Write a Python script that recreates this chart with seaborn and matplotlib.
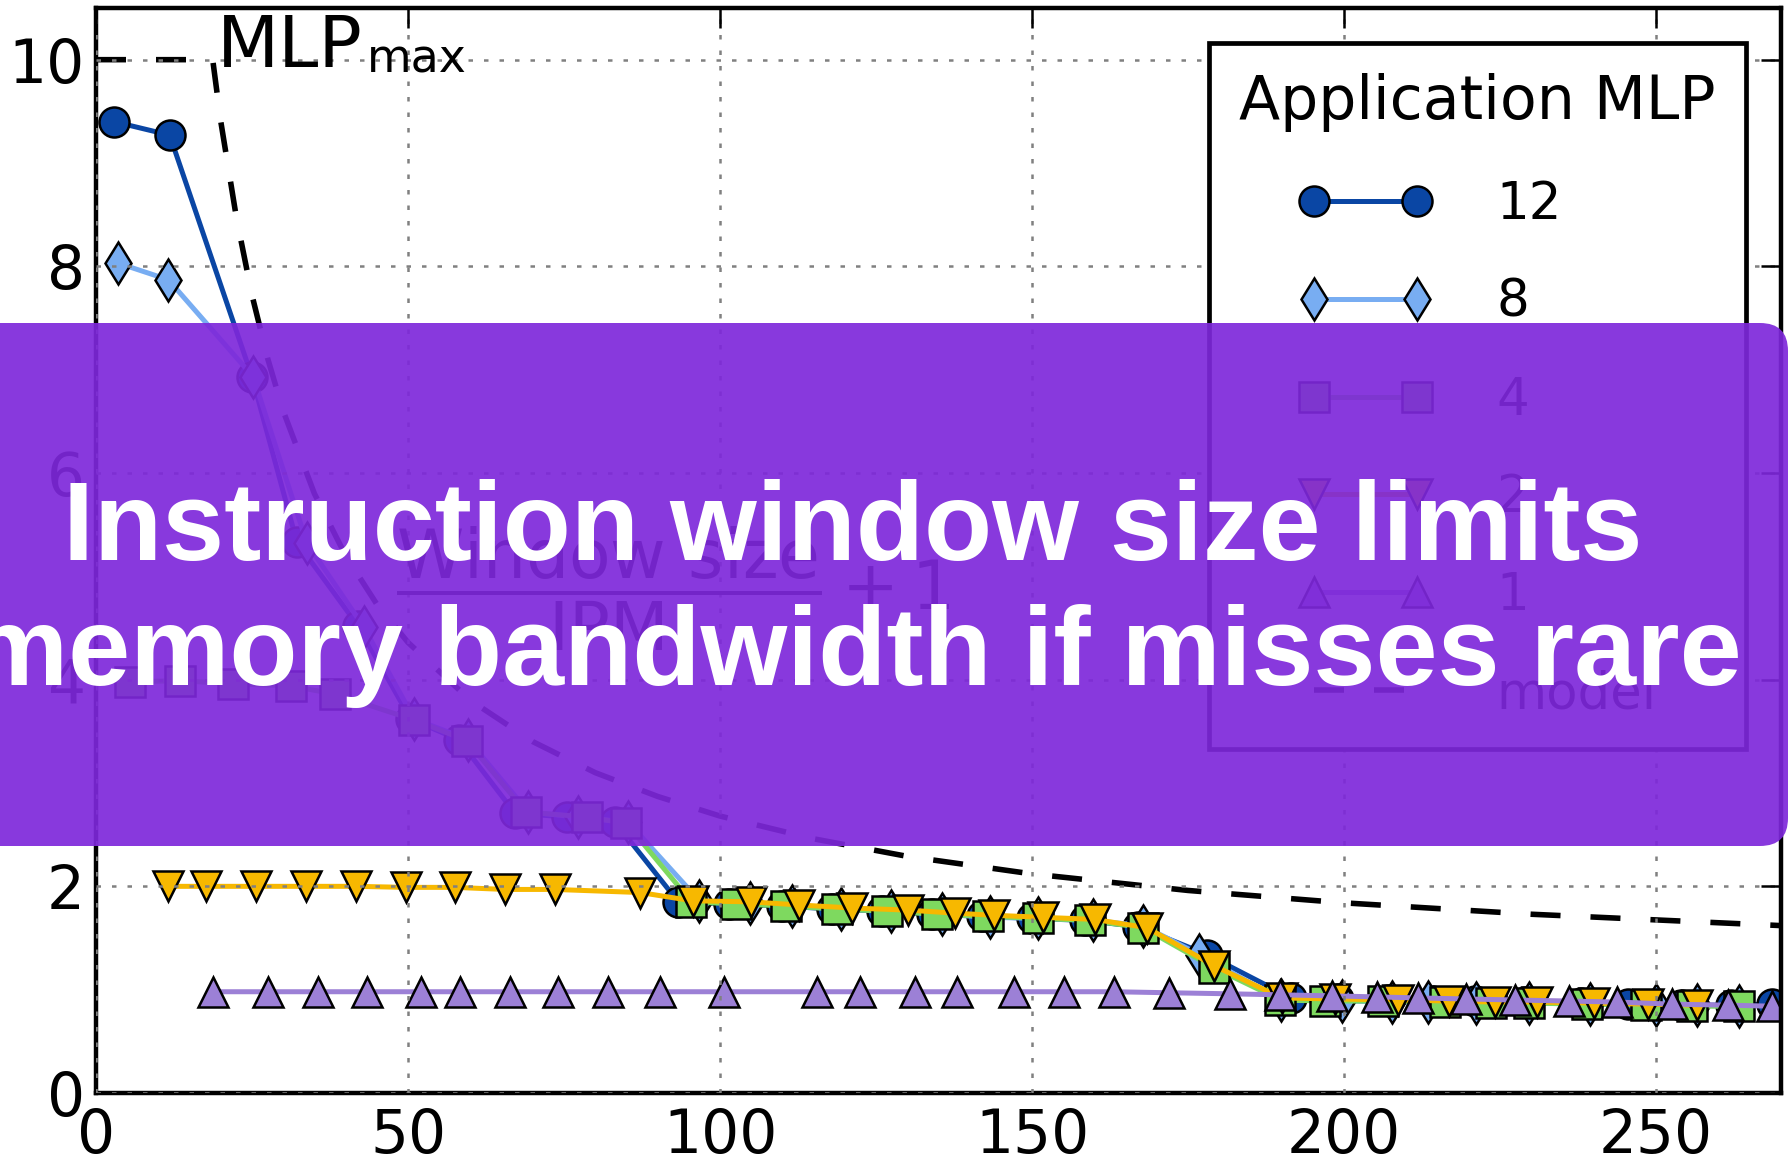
import matplotlib
matplotlib.use("Agg")
import matplotlib.pyplot as plt
import seaborn as sns
from matplotlib.patches import FancyBboxPatch
from matplotlib.transforms import IdentityTransform

# Measured MLP versus instructions per miss (IPM), one series per application MLP
ipm_12 = [2.9, 11.8, 25.0, 32.2, 42.0, 50.4, 58.1, 67.1, 75.4, 83.2, 93.3, 101.5, 110.0,
          118.0, 126.0, 134.0, 142.0, 150.0, 158.5, 167.0, 178.0, 191.5, 199.0, 207.0,
          214.0, 221.0, 229.0, 238.0, 245.5, 254.0, 262.0, 268.5]
mlp_12 = [9.40, 9.27, 6.93, 5.33, 4.52, 3.62, 3.42, 2.71, 2.67, 2.62, 1.85, 1.83, 1.81,
          1.78, 1.76, 1.73, 1.71, 1.69, 1.67, 1.61, 1.34, 0.92, 0.91, 0.90, 0.89, 0.89,
          0.88, 0.87, 0.86, 0.85, 0.85, 0.86]

ipm_8 = [3.6, 11.6, 25.2, 33.8, 42.9, 51.0, 59.6, 69.3, 77.3, 85.3, 96.7, 104.8, 111.5,
         119.4, 127.4, 135.5, 143.3, 150.9, 159.7, 167.7, 176.8, 189.9, 199.7, 207.6,
         213.5, 221.1, 229.7, 239.4, 250.0, 256.5, 263.3]
mlp_8 = [8.03, 7.87, 6.93, 5.32, 4.51, 3.62, 3.42, 2.72, 2.67, 2.62, 1.86, 1.84, 1.81,
         1.78, 1.76, 1.73, 1.70, 1.69, 1.67, 1.62, 1.34, 0.90, 0.89, 0.88, 0.88, 0.87,
         0.87, 0.86, 0.85, 0.85, 0.84]

ipm_4 = [5.4, 13.4, 22.0, 31.2, 38.3, 51.0, 59.4, 68.9, 78.6, 85.0, 95.4, 102.5, 110.6,
         118.7, 126.7, 134.8, 142.9, 151.0, 159.2, 167.8, 179.2, 189.8, 196.9, 206.3,
         216.2, 223.6, 229.7, 238.9, 248.3, 255.7, 263.3]
mlp_4 = [3.98, 3.99, 3.96, 3.94, 3.86, 3.61, 3.41, 2.72, 2.67, 2.61, 1.85, 1.83, 1.81,
         1.78, 1.76, 1.73, 1.71, 1.69, 1.67, 1.60, 1.21, 0.90, 0.89, 0.89, 0.88, 0.87,
         0.87, 0.86, 0.85, 0.84, 0.84]

ipm_2 = [11.6, 17.6, 25.7, 33.6, 41.6, 49.6, 57.5, 65.5, 73.5, 87.2, 95.6, 104.9, 112.6,
         121.2, 130.1, 137.7, 143.9, 151.8, 160.0, 168.4, 179.2, 190.0, 198.5, 208.6,
         216.8, 224.2, 230.9, 240.1, 248.7, 256.6]
mlp_2 = [2.00, 2.00, 2.00, 2.00, 2.00, 1.99, 1.99, 1.97, 1.97, 1.94, 1.86, 1.85, 1.82,
         1.79, 1.77, 1.74, 1.72, 1.70, 1.68, 1.60, 1.23, 0.92, 0.91, 0.90, 0.89, 0.88,
         0.88, 0.87, 0.86, 0.85]

ipm_1 = [18.7, 27.5, 35.5, 43.4, 52.0, 58.3, 66.4, 74.1, 82.1, 90.3, 100.7, 115.5, 122.4,
         131.2, 137.9, 147.1, 155.1, 163.1, 172.0, 181.7, 189.8, 198.0, 205.2, 211.9,
         219.6, 227.4, 236.0, 243.8, 252.5, 261.5, 268.5]
mlp_1 = [0.98, 0.98, 0.98, 0.98, 0.98, 0.98, 0.98, 0.98, 0.98, 0.98, 0.98, 0.98, 0.98,
         0.98, 0.98, 0.98, 0.98, 0.98, 0.97, 0.96, 0.95, 0.94, 0.93, 0.92, 0.91, 0.90,
         0.89, 0.88, 0.86, 0.85, 0.84]

# Model curve: min(MLP_max, window size / IPM + 1)
model_ipm = [0, 18.7, 20, 22.5, 25, 27.5, 30, 35, 40, 45, 50, 60, 70, 80, 90, 100, 115,
             130, 150, 175, 200, 230, 270]
model_mlp = [10.0, 10.0, 9.40, 8.47, 7.72, 7.11, 6.60, 5.80, 5.20, 4.73, 4.36, 3.80, 3.40,
             3.10, 2.87, 2.68, 2.46, 2.29, 2.12, 1.96, 1.84, 1.73, 1.62]

series_labels = ["12", "8", "4", "2", "1"]
series_colors = ["#0a46a4", "#78adf2", "#7ed95f", "#f7b800", "#9c80d6"]
series_markers = ["o", "d", "s", "v", "^"]

x_ticks = [0, 50, 100, 150, 200, 250]
y_ticks = [0, 2, 4, 6, 8, 10]

sns.set_style("white")
plt.rcParams["font.family"] = ["DejaVu Sans"]
plt.rcParams["mathtext.fontset"] = "dejavusans"
plt.rcParams["text.color"] = "black"
plt.rcParams["axes.labelcolor"] = "black"
plt.rcParams["legend.labelcolor"] = "black"

W, H = 1790, 1170
fig = plt.figure(figsize=(W / 100, H / 100), dpi=100)
fig.patch.set_facecolor("white")
ax = fig.add_axes([96 / W, 77 / H, (1781 - 96) / W, (1162 - 77) / H])

series = [(ipm_12, mlp_12), (ipm_8, mlp_8), (ipm_4, mlp_4), (ipm_2, mlp_2), (ipm_1, mlp_1)]
handles = []
for (xs, ys), lab, col, mk in zip(series, series_labels, series_colors, series_markers):
    sns.lineplot(x=xs, y=ys, ax=ax, color=col, linewidth=3.6, marker=mk,
                 markersize=21.6, markerfacecolor=col, markeredgecolor="black",
                 markeredgewidth=1.8, label=lab, legend=False)
    handles.append(ax.lines[-1])

sns.lineplot(x=model_ipm, y=model_mlp, ax=ax, color="black", linewidth=4.0,
             linestyle=(0, (5.4, 5.4)), label="model", legend=False)
handles.append(ax.lines[-1])

ax.set_xlim(0, 270)
ax.set_ylim(0, 10.5)
ax.set_xticks(x_ticks)
ax.set_yticks(y_ticks)
ax.set_xlabel("")
ax.set_ylabel("")

ax.set_axisbelow(False)
ax.grid(True, color="#808080", linestyle=(0, (1.8, 4.4)), linewidth=1.8)
ax.tick_params(direction="in", length=14.4, width=1.8, top=True, right=True,
               labelsize=43, colors="black")
ax.tick_params(axis="x", pad=10)
ax.tick_params(axis="y", pad=8)
for sp in ax.spines.values():
    sp.set_visible(True)
    sp.set_color("black")
    sp.set_linewidth(3.2)

# MLP_max label with a lowered, smaller "max"
ax.text(19.3, 9.93, "MLP", fontsize=51.8, va="baseline", ha="left", color="black")
ax.text(43.4, 9.88, "max", fontsize=33, va="baseline", ha="left", color="black")
ax.text(48.0, 4.88, r"$\dfrac{\mathrm{Window\ size}}{\mathrm{IPM}}+1$", fontsize=49,
        va="center", ha="left", color="black")

leg = ax.legend(handles=handles, labels=series_labels + ["model"], loc="upper right",
                title="Application MLP", fontsize=37, title_fontsize=43.3, numpoints=2,
                handlelength=2.6, handletextpad=1.25, labelspacing=0.93,
                borderpad=0.59, borderaxespad=0.68, fancybox=False, framealpha=1.0,
                edgecolor="black")
leg.get_frame().set_linewidth(3.4)
leg.get_title().set_color("black")
for t in leg.get_texts():
    t.set_color("black")

# Headline banner across the middle of the figure
banner = FancyBboxPatch((-60, 324), 1848, 523,
                        boxstyle="round,pad=0,rounding_size=28",
                        transform=IdentityTransform(), facecolor="#7e28da",
                        edgecolor="none", alpha=0.92, zorder=10)
fig.add_artist(banner)
fig.text(853 / W, (H - 560) / H, "Instruction window size limits", ha="center",
         va="baseline", fontsize=80.3, fontweight="bold", family="Liberation Sans",
         color="white", zorder=11)
fig.text(855 / W, (H - 685) / H, "memory bandwidth if misses rare", ha="center",
         va="baseline", fontsize=80.3, fontweight="bold", family="Liberation Sans",
         color="white", zorder=11)

fig.savefig("out.png", dpi=100, facecolor="white")
